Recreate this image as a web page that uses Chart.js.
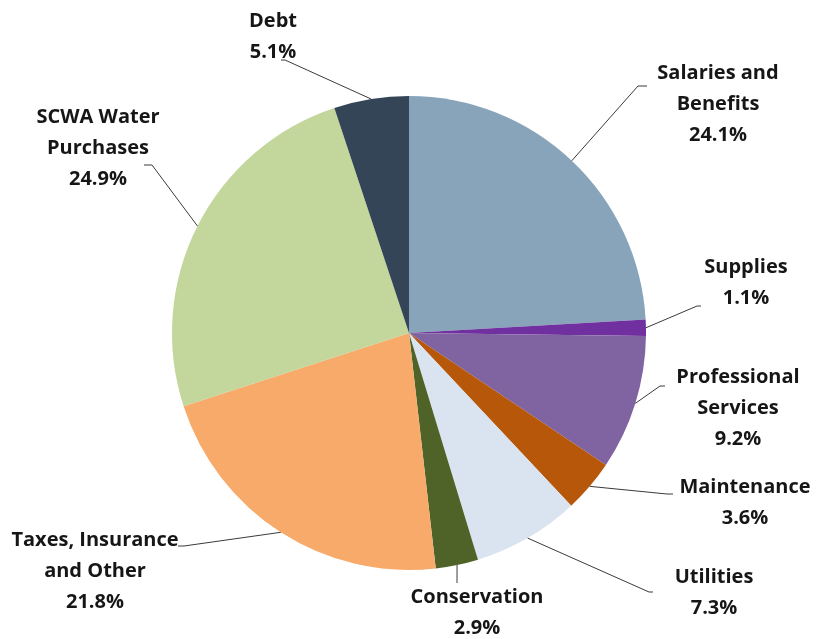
<!DOCTYPE html>
<html>
<head>
<meta charset="utf-8">
<script src="https://cdn.jsdelivr.net/npm/chart.js@4"></script>
<style>
  html, body { margin: 0; padding: 0; background: #fff; }
  #wrap { width: 818px; height: 639px; position: relative; }
</style>
</head>
<body>
<div id="wrap"><canvas id="chart"></canvas></div>
<script>
// budget breakdown, clockwise from 12 o'clock
const categories = [
    ["Salaries and", "Benefits"],
    ["Supplies"],
    ["Professional", "Services"],
    ["Maintenance"],
    ["Utilities"],
    ["Conservation"],
    ["Taxes, Insurance", "and Other"],
    ["SCWA Water", "Purchases"],
    ["Debt"]
]
const shares = [24.1, 1.1, 9.2, 3.6, 7.3, 2.9, 21.8, 24.9, 5.1]

const sliceColors = [
    "#88A4BB", "#7030A0", "#8064A2", "#B75709", "#DAE4F0",
    "#4F6228", "#F7AA6A", "#C3D69B", "#334557"
]

// where each label sits (text centre x, first line y) and the leader line bend
const labelLayout = [
    { x: 718, y: 73,  bend: [638, 86],  end: [647, 86] },
    { x: 746, y: 267, bend: [697, 306], end: [701, 306] },
    { x: 738, y: 377, bend: [660, 386], end: [665, 386] },
    { x: 745, y: 487, bend: [667, 494], end: [673, 494] },
    { x: 714, y: 577, bend: [649, 592], end: [653, 592] },
    { x: 477, y: 597, bend: [457, 583], end: [457, 583] },
    { x: 95,  y: 540, bend: [184, 546], end: [178, 546] },
    { x: 98,  y: 117, bend: [152, 165], end: [144, 165] },
    { x: 273, y: 21,  bend: [285, 60],  end: [281, 60] }
]

const lineHeight = 31

const outsideLabels = {
    id: "outsideLabels",
    afterDraw(chart) {
        const ctx = chart.ctx
        const arcs = chart.getDatasetMeta(0).data
        ctx.save()

        // leader lines from the middle of each slice edge
        ctx.strokeStyle = "#3a3a3a"
        ctx.lineWidth = 1
        arcs.forEach((arc, i) => {
            const mid = (arc.startAngle + arc.endAngle) / 2
            const sx = arc.x + Math.cos(mid) * arc.outerRadius
            const sy = arc.y + Math.sin(mid) * arc.outerRadius
            const lay = labelLayout[i]
            ctx.beginPath()
            ctx.moveTo(sx, sy)
            ctx.lineTo(lay.bend[0], lay.bend[1])
            ctx.lineTo(lay.end[0], lay.end[1])
            ctx.stroke()
        })

        ctx.fillStyle = "#161616"
        ctx.font = "bold 20px 'Open Sans'"
        ctx.textAlign = "center"
        ctx.textBaseline = "middle"
        categories.forEach((lines, i) => {
            const lay = labelLayout[i]
            const all = [...lines, shares[i].toFixed(1) + "%"]
            all.forEach((t, k) => ctx.fillText(t, lay.x, lay.y + k * lineHeight))
        })
        ctx.restore()
    }
}

new Chart(document.getElementById("chart"), {
    type: "pie",
    data: {
        labels: categories,
        datasets: [
            {
                data: shares,
                backgroundColor: sliceColors,
                borderWidth: 0
            }
        ]
    },
    options: {
        responsive: true,
        maintainAspectRatio: false,
        animation: false,
        layout: { padding: { top: 96, bottom: 69, left: 172, right: 172 } },
        plugins: {
            legend: { display: false },
            tooltip: { enabled: false }
        }
    },
    plugins: [outsideLabels]
})
</script>
</body>
</html>
